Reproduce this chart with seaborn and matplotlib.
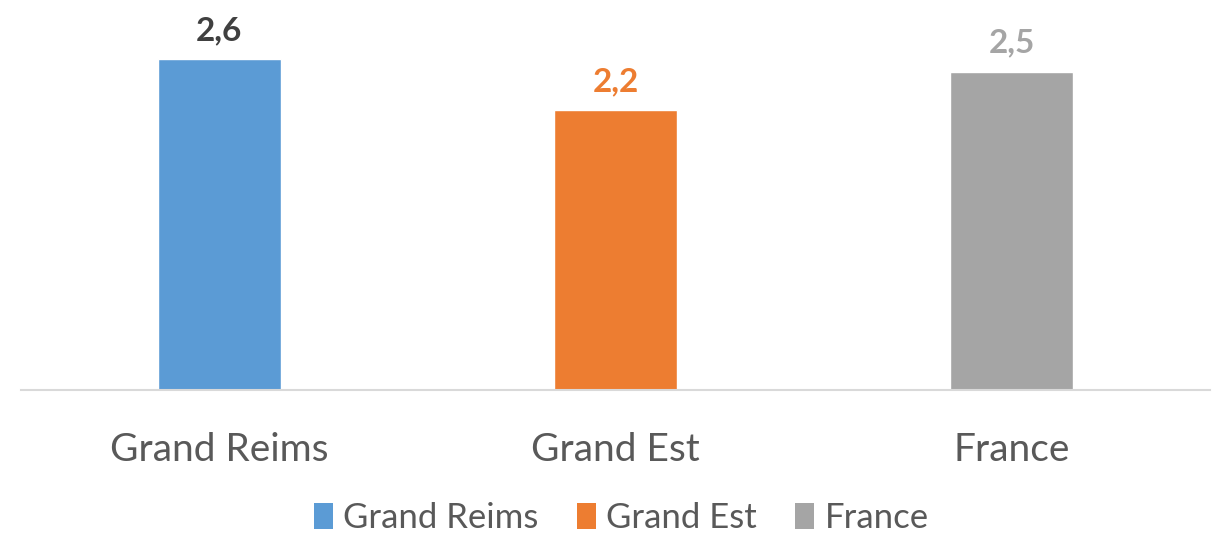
import matplotlib
matplotlib.use("Agg")
import matplotlib.pyplot as plt
import seaborn as sns
import pandas as pd
from matplotlib.patches import Patch

categories = ["Grand Reims", "Grand Est", "France"]
values = [2.6, 2.2, 2.5]
value_labels = ["2,6", "2,2", "2,5"]
bar_colors = ["#5B9BD5", "#ED7D31", "#A5A5A5"]
label_colors = ["#404040", "#ED7D31", "#A5A5A5"]

sns.set_theme(style="white")
plt.rcParams['font.family'] = ['Lato', 'DejaVu Sans']

df = pd.DataFrame({"cat": categories, "val": values})

fig = plt.figure(figsize=(12.16, 5.36), dpi=100)
ax = fig.add_axes([21/1216, 146/536, 1189/1216, 382/536])
sns.barplot(data=df, x="cat", y="val", hue="cat", palette=bar_colors,
            width=0.31, legend=False, ax=ax, saturation=1)
ax.set_xlim(-0.5, 2.5)
ax.set_ylim(0, 3.0)
ax.set_xlabel("")
ax.set_ylabel("")
ax.set_yticks([])
for s in ["top", "right", "left"]:
    ax.spines[s].set_visible(False)
ax.spines["bottom"].set_color("#D9D9D9")
ax.spines["bottom"].set_linewidth(1.5)
ax.tick_params(axis="x", length=0, pad=30, labelsize=28, labelcolor="#595959")

for i, (v, lab, c) in enumerate(zip(values, value_labels, label_colors)):
    ax.annotate(lab, (i, v), xytext=(0, 10), textcoords="offset points",
                ha="center", va="bottom", fontsize=24, fontweight="bold", color=c)

handles = [Patch(facecolor=c, edgecolor="none") for c in bar_colors]
fig.legend(handles, categories, loc="center", bbox_to_anchor=(0.511, 1 - 518/536),
           ncol=3, frameon=False, fontsize=25, labelcolor="#595959",
           handlelength=0.55, handleheight=0.8, handletextpad=0.3, columnspacing=1.1)

fig.savefig("out.png", dpi=100)
